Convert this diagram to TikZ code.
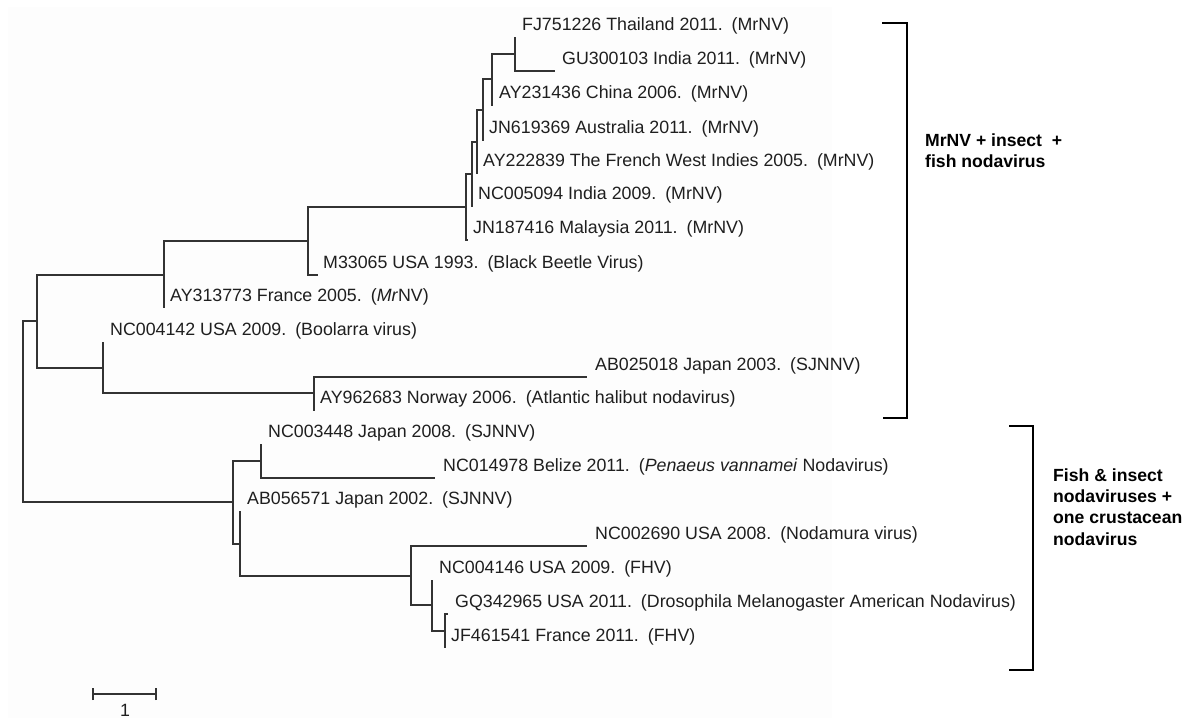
\documentclass[tikz,border=0pt]{standalone}
\usepackage{fontspec}
\setmainfont{Liberation Sans}
\newcommand{\tiplab}[2]{#1\hspace{9pt}#2}
\begin{document}
\begin{tikzpicture}[x=1pt,y=-1pt,
  br/.style={line width=1.4pt, draw=black!80},
  lab/.style={anchor=base west, inner sep=0pt, font=\fontsize{17.8}{21}\selectfont, text=black!88},
  grp/.style={anchor=north west, inner sep=0pt, font=\fontsize{17.6}{21.2}\selectfont\bfseries, align=left, text=black},
  brk/.style={line width=2.4pt, draw=black}
]
\useasboundingbox (0,0) rectangle (1199,718);
\fill[white] (0,0) rectangle (1199,718);
\fill[black!0.6] (8,7) rectangle (832,718);

% internal nodes
\coordinate (R) at (23,412);
\coordinate (A) at (37,321);
\coordinate (B) at (164,275);
\coordinate (C) at (308,241);
\coordinate (D) at (466,207);
\coordinate (G) at (472,174);
\coordinate (H) at (477,142);
\coordinate (I) at (483,110);
\coordinate (J) at (492,79);
\coordinate (K) at (515,54);
\coordinate (F) at (103,368);
\coordinate (L) at (314,393);
\coordinate (E) at (233,502);
\coordinate (M) at (261,461);
\coordinate (N) at (240,544);
\coordinate (O) at (411,576);
\coordinate (P) at (432,605);
\coordinate (Q) at (445,631);

% tips
\coordinate (t1) at (515,37);
\coordinate (t2) at (555,71);
\coordinate (t3) at (493,105);
\coordinate (t4) at (484,140);
\coordinate (t5) at (478,173);
\coordinate (t6) at (473,206);
\coordinate (t7) at (468,240);
\coordinate (t8) at (318,275);
\coordinate (t9) at (164,308);
\coordinate (t10) at (103,342);
\coordinate (t11) at (587,377);
\coordinate (t12) at (315,410);
\coordinate (t13) at (261,444);
\coordinate (t14) at (435,478);
\coordinate (t15) at (240,511);
\coordinate (t16) at (587,546);
\coordinate (t17) at (432,580);
\coordinate (t18) at (448,614);
\coordinate (t19) at (445,648);

% branches
\draw[br] (R) |- (A);  \draw[br] (R) |- (E);
\draw[br] (A) |- (B);  \draw[br] (A) |- (F);
\draw[br] (B) |- (C);  \draw[br] (B) |- (t9);
\draw[br] (C) |- (D);  \draw[br] (C) |- (t8);
\draw[br] (D) |- (G);  \draw[br] (D) |- (t7);
\draw[br] (G) |- (H);  \draw[br] (G) |- (t6);
\draw[br] (H) |- (I);  \draw[br] (H) |- (t5);
\draw[br] (I) |- (J);  \draw[br] (I) |- (t4);
\draw[br] (J) |- (K);  \draw[br] (J) |- (t3);
\draw[br] (K) |- (t1); \draw[br] (K) |- (t2);
\draw[br] (F) |- (t10); \draw[br] (F) |- (L);
\draw[br] (L) |- (t11); \draw[br] (L) |- (t12);
\draw[br] (E) |- (M);  \draw[br] (E) |- (N);
\draw[br] (M) |- (t13); \draw[br] (M) |- (t14);
\draw[br] (N) |- (t15); \draw[br] (N) |- (O);
\draw[br] (O) |- (t16); \draw[br] (O) |- (P);
\draw[br] (P) |- (t17); \draw[br] (P) |- (Q);
\draw[br] (Q) |- (t18); \draw[br] (Q) |- (t19);

% labels
\node[lab] (l1) at ([xshift=7pt,yshift=6.3pt]t1) {\tiplab{FJ751226 Thailand 2011.}{(MrNV)}};
\node[lab] (l2) at ([xshift=7pt,yshift=6.3pt]t2) {\tiplab{GU300103 India 2011.}{(MrNV)}};
\node[lab] (l3) at ([xshift=6pt,yshift=6.3pt]t3) {\tiplab{AY231436 China 2006.}{(MrNV)}};
\node[lab] (l4) at ([xshift=5pt,yshift=6.3pt]t4) {\tiplab{JN619369 Australia 2011.}{(MrNV)}};
\node[lab] (l5) at ([xshift=5pt,yshift=6.3pt]t5) {\tiplab{AY222839 The French West Indies 2005.}{(MrNV)}};
\node[lab] (l6) at ([xshift=5pt,yshift=6.3pt]t6) {\tiplab{NC005094 India 2009.}{(MrNV)}};
\node[lab] (l7) at ([xshift=5pt,yshift=6.3pt]t7) {\tiplab{JN187416 Malaysia 2011.}{(MrNV)}};
\node[lab] (l8) at ([xshift=5pt,yshift=6.3pt]t8) {\tiplab{M33065 USA 1993.}{(Black Beetle Virus)}};
\node[lab] (l9) at ([xshift=6pt,yshift=6.3pt]t9) {\tiplab{AY313773 France 2005.}{(\textit{Mr}NV)}};
\node[lab] (l10) at ([xshift=7pt,yshift=6.3pt]t10) {\tiplab{NC004142 USA 2009.}{(Boolarra virus)}};
\node[lab] (l11) at ([xshift=8pt,yshift=6.3pt]t11) {\tiplab{AB025018 Japan 2003.}{(SJNNV)}};
\node[lab] (l12) at ([xshift=5pt,yshift=6.3pt]t12) {\tiplab{AY962683 Norway 2006.}{(Atlantic halibut nodavirus)}};
\node[lab] (l13) at ([xshift=7pt,yshift=6.3pt]t13) {\tiplab{NC003448 Japan 2008.}{(SJNNV)}};
\node[lab] (l14) at ([xshift=8pt,yshift=6.3pt]t14) {\tiplab{NC014978 Belize 2011.}{(\textit{Penaeus vannamei} Nodavirus)}};
\node[lab] (l15) at ([xshift=7pt,yshift=6.3pt]t15) {\tiplab{AB056571 Japan 2002.}{(SJNNV)}};
\node[lab] (l16) at ([xshift=8pt,yshift=6.3pt]t16) {\tiplab{NC002690 USA 2008.}{(Nodamura virus)}};
\node[lab] (l17) at ([xshift=7pt,yshift=6.3pt]t17) {\tiplab{NC004146 USA 2009.}{(FHV)}};
\node[lab] (l18) at ([xshift=7pt,yshift=6.3pt]t18) {\tiplab{GQ342965 USA 2011.}{(Drosophila Melanogaster American Nodavirus)}};
\node[lab] (l19) at ([xshift=6pt,yshift=6.3pt]t19) {\tiplab{JF461541 France 2011.}{(FHV)}};

% brackets
\coordinate (b1a) at (882,23);  \coordinate (b1b) at (907,23);
\coordinate (b1c) at (907,418); \coordinate (b1d) at (883,418);
\draw[brk] (b1a) -- (b1b) -- (b1c) -- (b1d);
\coordinate (b2a) at (1009,426); \coordinate (b2b) at (1033,426);
\coordinate (b2c) at (1033,670); \coordinate (b2d) at (1009,670);
\draw[brk] (b2a) -- (b2b) -- (b2c) -- (b2d);

\node[grp] (g1) at (925,133.5) {MrNV + insect\ \ +\\fish nodavirus};
\node[grp] (g2) at (1053,468.5) {Fish \& insect\\nodaviruses +\\one crustacean\\nodavirus};

% scale bar
\coordinate (s1) at (93,694); \coordinate (s2) at (156,694);
\draw[br] (s1) -- (s2);
\draw[br] ([yshift=-6pt]s1) -- ([yshift=6pt]s1);
\draw[br] ([yshift=-6pt]s2) -- ([yshift=6pt]s2);
\node[lab, anchor=center] (s1lab) at (125,710) {1};
\end{tikzpicture}
\end{document}
